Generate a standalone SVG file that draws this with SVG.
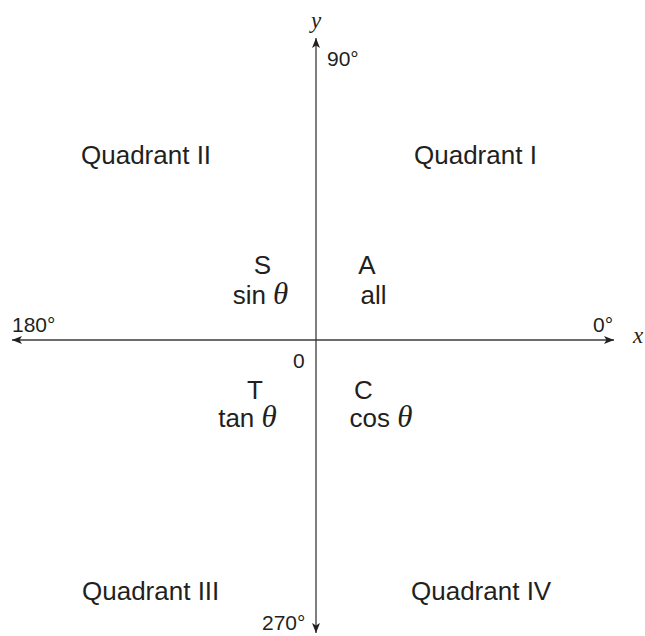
<svg xmlns="http://www.w3.org/2000/svg" width="645" height="636" viewBox="0 0 645 636">
<style>
.t{font-family:"Liberation Sans",Arial,sans-serif;fill:#231f20;font-size:26px}
.s{font-size:21px}
.m{font-family:"Liberation Serif","Times New Roman",serif;font-style:italic;fill:#231f20}
.ax{stroke:#3a3a3a;stroke-width:1.3;fill:none}
</style>
<defs>
<marker id="ah" viewBox="0 0 10 8" refX="10" refY="4" markerWidth="10" markerHeight="8" markerUnits="userSpaceOnUse" orient="auto-start-reverse">
<path d="M0,0 L10,4 L0,8 L2.5,4 Z" fill="#231f20"/>
</marker>
</defs>
<g id="connectors">
<line class="ax" x1="316" y1="633" x2="316" y2="38" marker-start="url(#ah)" marker-end="url(#ah)"/>
<line class="ax" x1="12" y1="340" x2="614" y2="340" marker-start="url(#ah)" marker-end="url(#ah)"/>
</g>
<g id="axis-labels">
<text class="m" x="316" y="28" font-size="23" text-anchor="middle">y</text>
<text class="m" x="633" y="343" font-size="23">x</text>
<text class="t s" x="327" y="66">90°</text>
<text class="t s" x="12" y="332">180°</text>
<text class="t s" x="593" y="332">0°</text>
<text class="t s" x="262" y="630">270°</text>
<text class="t s" x="293" y="368" font-size="20">0</text>
</g>
<g id="q1"><text class="t" x="414" y="164">Quadrant I</text></g>
<g id="q2"><text class="t" x="81" y="164">Quadrant II</text></g>
<g id="q3"><text class="t" x="82" y="600">Quadrant III</text></g>
<g id="q4"><text class="t" x="411" y="600">Quadrant IV</text></g>
<g id="S"><text class="t" x="262.5" y="274" text-anchor="middle">S</text>
<text class="t" x="260.5" y="304" text-anchor="middle">sin <tspan class="m" font-size="31">θ</tspan></text></g>
<g id="A"><text class="t" x="367" y="274" text-anchor="middle">A</text>
<text class="t" x="373.5" y="304" text-anchor="middle">all</text></g>
<g id="T"><text class="t" x="255" y="399" text-anchor="middle">T</text>
<text class="t" x="247.5" y="427" text-anchor="middle">tan <tspan class="m" font-size="31">θ</tspan></text></g>
<g id="C"><text class="t" x="363.5" y="399" text-anchor="middle">C</text>
<text class="t" x="381" y="427" text-anchor="middle">cos <tspan class="m" font-size="31">θ</tspan></text></g>
</svg>
